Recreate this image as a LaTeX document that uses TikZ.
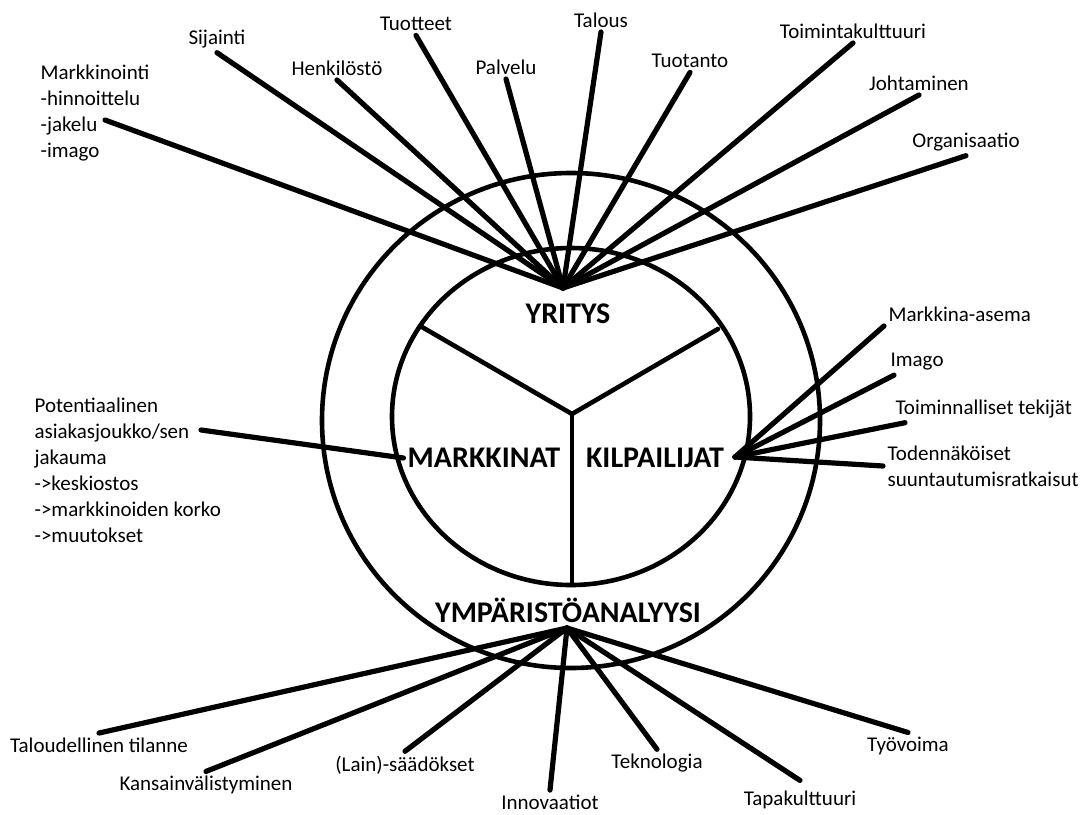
\documentclass[tikz,border=0pt]{standalone}
\usepackage{fontspec}
\setmainfont{Carlito}
\usepackage{tikz}

\begin{document}
\begin{tikzpicture}[x=0.5pt, y=-0.5pt, line width=2.3pt, line cap=round]
	\tikzstyle{label} = [inner sep=1pt, font=\fontsize{10.5}{13}\selectfont]
	\tikzstyle{block} = [label, align=left, anchor=west]
	\tikzstyle{title} = [inner sep=1pt, font=\fontsize{15}{18}\selectfont\bfseries]
	\tikzstyle{spoke} = [line width=2.6pt]
	\useasboundingbox (0,0) rectangle (1087,814);
	% rings and the three sectors
	\draw (571,420.5) circle [x radius=249, y radius=247.5];
	\draw (571,416.5) circle [x radius=179, y radius=168.5];
	\coordinate (mid) at (572,414);
	\draw (422,327) -- (mid) -- (718,329);
	\draw (mid) -- (572,585);
	\begin{scope}
	  \path
	  node[title] (Y) at (568,314) {YRITYS}
	  node[title] (M) at (484,458) {MARKKINAT}
	  node[title] (K) at (655,458) {KILPAILIJAT}
	  node[title] (YA) at (568,610) {YMPÄRISTÖANALYYSI}
	  ;
	  \coordinate (hubY) at (563,288);
	  \coordinate (hubK) at (735,457);
	  \coordinate (hubYA) at (567,628);
	\end{scope}
	% yritys
	\begin{scope}
	  \path[spoke]
	  node[block] (Mar) at (36,113) {Markkinointi\\-hinnoittelu\\-jakelu\\-imago}
	  node[label] (Sij) at (217,39) {Sijainti}
	  node[label] (Hen) at (337,68) {Henkilöstö}
	  node[label] (Tuo) at (416,24) {Tuotteet}
	  node[label] (Pal) at (506,67) {Palvelu}
	  node[label] (Tal) at (601,20) {Talous}
	  node[label] (Tan) at (690,61) {Tuotanto}
	  node[label] (Toi) at (853,31) {Toimintakulttuuri}
	  node[label] (Joh) at (919,83) {Johtaminen}
	  node[label] (Org) at (966,142) {Organisaatio}
	  (hubY) edge (105,120)
	  (hubY) edge (Sij.south)
	  (hubY) edge (Hen.south)
	  (hubY) edge (Tuo.south)
	  (hubY) edge (Pal.south)
	  (hubY) edge (Tal.south)
	  (hubY) edge (Tan.south)
	  (hubY) edge (Toi.south)
	  (hubY) edge (Joh.south)
	  (hubY) edge (Org.south)
	  ;
	\end{scope}
	% markkinat
	\begin{scope}
	  \path[spoke]
	  node[block] (Pot) at (30,470) {Potentiaalinen\\asiakasjoukko/sen\\jakauma\\->keskiostos\\->markkinoiden korko\\->muutokset}
	  (M.west) edge (201,430)
	  ;
	\end{scope}
	% kilpailijat
	\begin{scope}
	  \path[spoke]
	  node[block] (Mas) at (884,314) {Markkina-asema}
	  node[block] (Ima) at (886,362) {Imago}
	  node[block] (Tek) at (891,409) {Toiminnalliset tekijät}
	  node[block] (Tod) at (883,466) {Todennäköiset\\suuntautumisratkaisut}
	  (hubK) edge (Mas.south west)
	  (hubK) edge ([xshift=4pt]Ima.south west)
	  (hubK) edge ([xshift=7pt]Tek.south west)
	  (hubK) edge (Tod.west)
	  ;
	\end{scope}
	% ymparisto
	\begin{scope}
	  \path[spoke]
	  node[label] (Tti) at (99,745) {Taloudellinen tilanne}
	  node[label] (Kan) at (206,785) {Kansainvälistyminen}
	  node[label] (Lai) at (405,765) {(Lain)-säädökset}
	  node[label] (Inn) at (550,802) {Innovaatiot}
	  node[label] (Tkn) at (657,763) {Teknologia}
	  node[label] (Tap) at (800,800) {Tapakulttuuri}
	  node[label] (Tyo) at (908,746) {Työvoima}
	  (hubYA) edge (Tti.north)
	  (hubYA) edge (Kan.north)
	  (hubYA) edge (Lai.north)
	  (hubYA) edge (Inn.north)
	  (hubYA) edge (Tkn.north)
	  (hubYA) edge ([yshift=3pt]Tap.north)
	  (hubYA) edge (Tyo.north)
	  ;
	\end{scope}
\end{tikzpicture}
\end{document}
